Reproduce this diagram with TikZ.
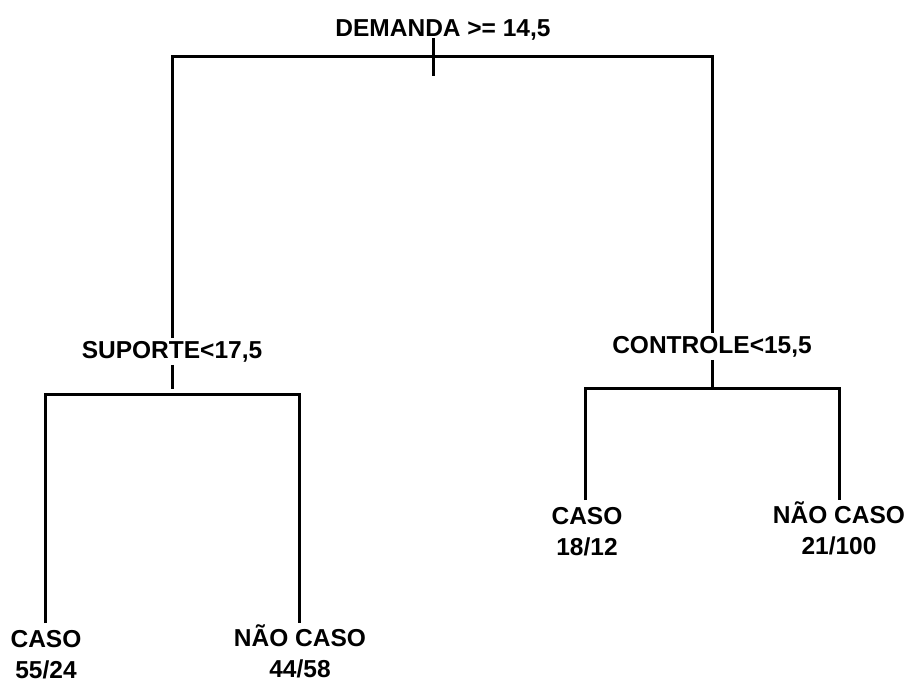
\documentclass[tikz,border=0pt]{standalone}
\usepackage{fontspec}
\setmainfont{Liberation Sans}
\usetikzlibrary{calc}
\tikzset{
  arvlabel/.style={font=\fontsize{24.5}{31}\selectfont\bfseries, inner sep=3pt,
                   anchor=base, align=center},
  arvleaf/.style ={arvlabel, anchor=north, inner sep=0pt},
  arvline/.style ={line width=3pt, black, line join=miter},
}
\begin{document}
\begin{tikzpicture}[x=1pt, y=-1pt]
    \useasboundingbox (0,0) rectangle (907,682);
    % junctions of the tree
    \coordinate (t0) at (433,76);
    \coordinate (tl) at (172,57);
    \coordinate (tr) at (712,57);
    \coordinate (s0) at (172,389);
    \coordinate (sl) at (45,394);
    \coordinate (sr) at (299,394);
    \coordinate (c0) at (712,388);
    \coordinate (cl) at (585,388);
    \coordinate (cr) at (839,388);
    % split labels
    \node[arvlabel, inner sep=0pt] (dem) at (443,37) {DEMANDA >= 14,5};
    \node[arvlabel] (sup) at (172,358) {SUPORTE<17,5};
    \node[arvlabel] (con) at (712,353) {CONTROLE<15,5};
    % leaves
    \node[arvleaf] (caso1) at (46,630)  {CASO\\55/24};
    \node[arvleaf] (nao1)  at (300,624) {NÃO CASO\\44/58};
    \node[arvleaf] (caso2) at (587,507) {CASO\\18/12};
    \node[arvleaf] (nao2)  at (839,501) {NÃO CASO\\21/100};
    % branches
    \draw[arvline] ($(t0 |- dem.south)+(0,-3)$) -- (t0);
    \draw[arvline] (sup.north) -- (tl) -- (tr) -- (con.north);
    \draw[arvline] (sup.south) -- (s0);
    \draw[arvline] (sl |- caso1.north) ++(0,-7) -- (sl) -- (sr) -- ($(sr |- nao1.north)+(0,-1)$);
    \draw[arvline] (con.south) -- (c0);
    \draw[arvline] (cl |- caso2.north) ++(0,-7) -- (cl) -- (cr) -- ($(cr |- nao2.north)+(0,-1)$);
\end{tikzpicture}
\end{document}
